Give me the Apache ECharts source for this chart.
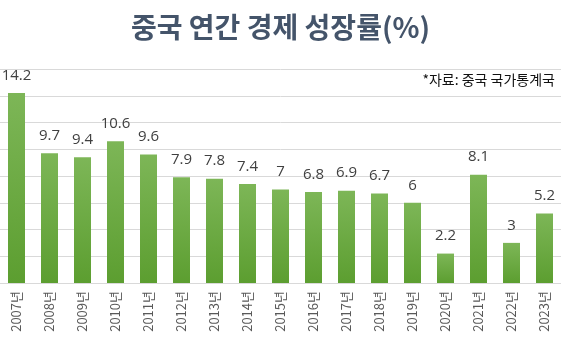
<!DOCTYPE html>
<html><head><meta charset="utf-8">
<script src="https://cdn.jsdelivr.net/npm/echarts@6/dist/echarts.min.js"></script>
<style>html,body{margin:0;padding:0;background:#fff}#c{width:561px;height:342px}</style>
</head><body><div id="c"></div>
<script>
const categories = ['2007년','2008년','2009년','2010년','2011년','2012년','2013년','2014년','2015년','2016년','2017년','2018년','2019년','2020년','2021년','2022년','2023년'];
const growth = [14.2, 9.7, 9.4, 10.6, 9.6, 7.9, 7.8, 7.4, 7, 6.8, 6.9, 6.7, 6, 2.2, 8.1, 3, 5.2];
const titleText = '중국 연간 경제 성장률(%)';
const sourceText = '*자료: 중국 국가통계국';

const chart = echarts.init(document.getElementById('c'), null, {renderer:'canvas'});
const font = '"Noto Sans CJK KR", "Noto Sans", sans-serif';
chart.setOption({
  animation: false,
  title: {
    text: titleText, left: 'center', top: 8,
    textStyle: {fontFamily: font, fontSize: 28, fontWeight: 'bold', color: '#44546a'}
  },
  graphic: [{
    type: 'text', right: 6, top: 73,
    style: {text: sourceText, font: '14px ' + font, fill: '#111'}
  }],
  grid: {left: 0, right: 0, top: 69, bottom: 59, containLabel: false},
  xAxis: {
    type: 'category', data: categories,
    axisLine: {lineStyle: {color: '#d9d9d9'}},
    axisTick: {show: false},
    axisLabel: {rotate: 90, color: '#595959', fontSize: 13, fontFamily: font, margin: 8, interval: 0}
  },
  yAxis: {
    type: 'value', min: 0, max: 16, interval: 2,
    axisLabel: {show: false}, axisLine: {show: false}, axisTick: {show: false},
    splitLine: {lineStyle: {color: '#d9d9d9'}}
  },
  series: [{
    type: 'bar', data: growth, barWidth: 17,
    itemStyle: {color: new echarts.graphic.LinearGradient(0,0,0,1,[{offset:0,color:'#7db657'},{offset:1,color:'#5c9e30'}])},
    label: {show: true, position: 'top', distance: 10, color: '#404040', fontSize: 15, fontFamily: '"Open Sans", "Noto Sans", sans-serif'}
  }]
});
</script></body></html>
